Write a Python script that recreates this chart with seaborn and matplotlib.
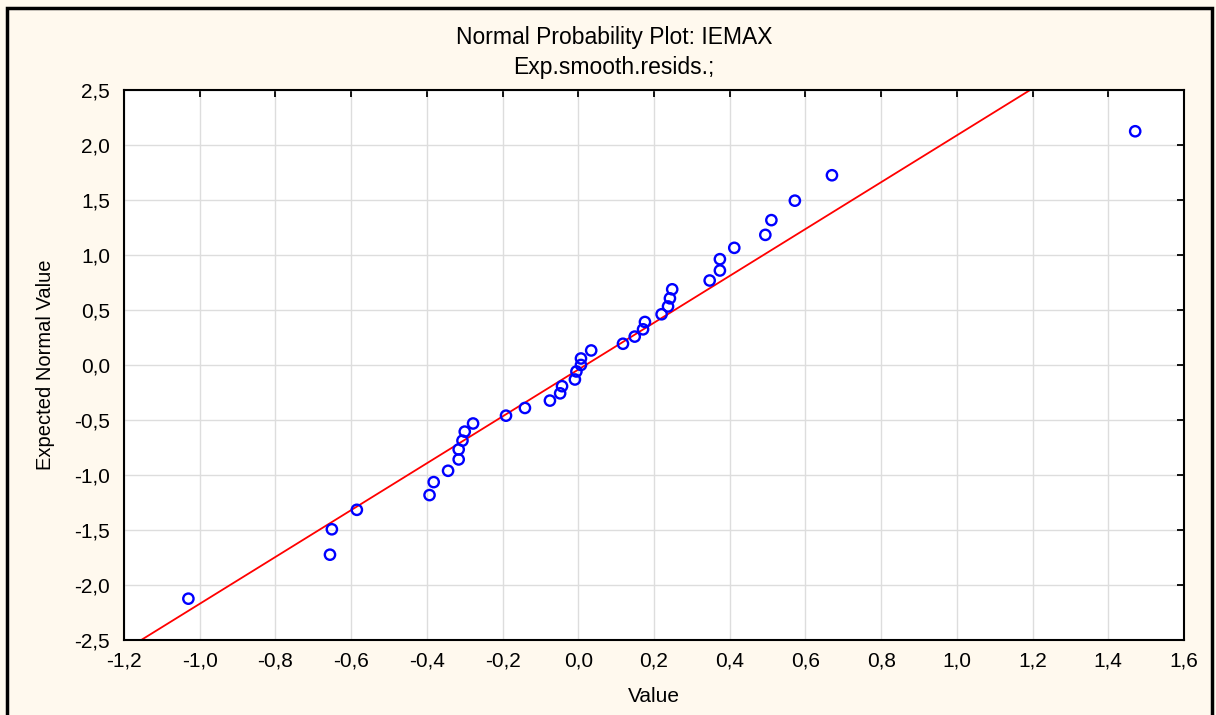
import matplotlib
matplotlib.use("Agg")
import matplotlib.pyplot as plt
from matplotlib.patches import Rectangle
from matplotlib.ticker import FuncFormatter
import seaborn as sns
import pandas as pd

# residual values (x) and their expected normal scores (y)
values = [-1.030, -0.656, -0.651, -0.585, -0.393, -0.382, -0.344, -0.316, -0.316,
          -0.306, -0.300, -0.278, -0.191, -0.141, -0.075, -0.048, -0.043, -0.009,
          -0.005, 0.007, 0.007, 0.034, 0.118, 0.149, 0.171, 0.176, 0.220, 0.237,
          0.242, 0.248, 0.347, 0.374, 0.374, 0.412, 0.494, 0.510, 0.572, 0.670, 1.471]
expected = [-2.125, -1.725, -1.494, -1.317, -1.183, -1.065, -0.962, -0.859, -0.768,
            -0.688, -0.606, -0.532, -0.461, -0.391, -0.324, -0.258, -0.193, -0.132,
            -0.059, 0.000, 0.059, 0.132, 0.193, 0.258, 0.324, 0.391, 0.461, 0.532,
            0.606, 0.688, 0.768, 0.859, 0.962, 1.065, 1.183, 1.317, 1.494, 1.725, 2.125]

x_ticks = [-1.2, -1.0, -0.8, -0.6, -0.4, -0.2, 0.0, 0.2, 0.4, 0.6, 0.8, 1.0, 1.2, 1.4, 1.6]
y_ticks = [-2.5, -2.0, -1.5, -1.0, -0.5, 0.0, 0.5, 1.0, 1.5, 2.0, 2.5]

title = "Normal Probability Plot: IEMAX\nExp.smooth.resids.;"

df = pd.DataFrame({"Value": values, "Expected Normal Value": expected})

sns.set_style("white")
plt.rcParams["font.family"] = ["Liberation Sans", "DejaVu Sans"]
plt.rcParams["text.color"] = "black"
plt.rcParams["axes.labelcolor"] = "black"

fig = plt.figure(figsize=(12.16, 7.15), dpi=100, facecolor="#fff9ee")
ax = fig.add_axes([0.102, 0.105, 0.8717, 0.7691])
ax.set_facecolor("white")

ax.set_xlim(x_ticks[0], x_ticks[-1])
ax.set_ylim(y_ticks[0], y_ticks[-1])

# least squares line across the full x range
sns.regplot(data=df, x="Value", y="Expected Normal Value", ax=ax, ci=None,
            truncate=False, scatter=False, line_kws={"color": "red", "lw": 1.3, "zorder": 2})

sns.scatterplot(data=df, x="Value", y="Expected Normal Value", ax=ax,
                marker="o", s=55, facecolor="none", edgecolor="#0000ff",
                linewidth=1.7, zorder=3)

ax.set_xlim(x_ticks[0], x_ticks[-1])
ax.set_ylim(y_ticks[0], y_ticks[-1])
ax.set_xticks(x_ticks)
ax.set_yticks(y_ticks)
comma = FuncFormatter(lambda v, p: f"{v:.1f}".replace(".", ",").replace("-0,0", "0,0"))
ax.xaxis.set_major_formatter(comma)
ax.yaxis.set_major_formatter(comma)

ax.grid(True, color="#dddddd", lw=1)
ax.set_axisbelow(True)
for s in ax.spines.values():
    s.set_visible(True)
    s.set_color("black")
    s.set_linewidth(1.5)
ax.tick_params(direction="in", length=5, width=1.3, top=True, right=True,
               labelsize=15, colors="black")
ax.tick_params(axis="y", pad=10)
ax.tick_params(axis="x", pad=8)

ax.set_xlabel("Value", fontsize=15, labelpad=12)
ax.set_ylabel("Expected Normal Value", fontsize=14.5, labelpad=14)

fig.text(0.505, 0.927, title, ha="center", va="center", fontsize=16.5,
         linespacing=1.4)

# frame around the whole figure
fig.patches.append(Rectangle((0.006, -0.1), 0.9905, 1.0888, transform=fig.transFigure,
                             fill=False, edgecolor="black", lw=2.5))

fig.savefig("out.png", dpi=100, facecolor=fig.get_facecolor())
